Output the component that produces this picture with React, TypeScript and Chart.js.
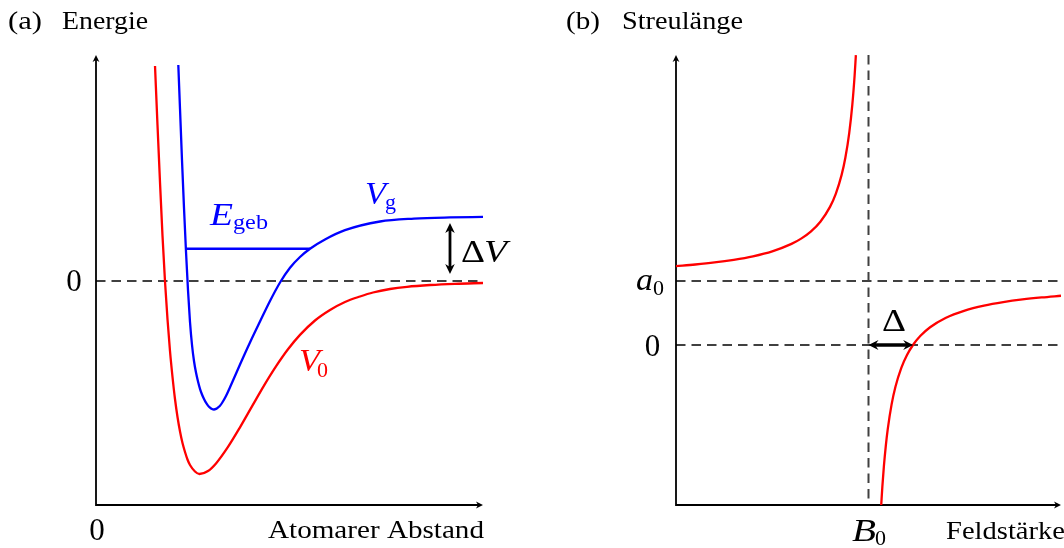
import React, { useEffect, useRef } from "react";
import { Chart, registerables } from "chart.js";

Chart.register(...registerables);

// ---------- (a) Energie über atomarem Abstand ----------
const distanceRange = [0, 10];
const energyRange = [-4.48, 4.52];

// V0: offener Kanal
const v0Distance = [
  1.525, 1.589, 1.654, 1.718, 1.783, 1.848, 1.912, 1.977, 2.041, 2.106, 2.171, 2.235, 2.3, 2.364, 2.429,
  2.558, 2.674, 2.894, 3.101, 3.411, 3.721, 4.031, 4.341, 4.651, 4.961, 5.271, 5.659, 6.047, 6.434, 6.822,
  7.158, 7.597, 8.036, 8.631, 9.277, 10.0,
];
const v0Energy = [
  4.3, 3.12, 1.97, 0.91, -0.01, -0.77, -1.4, -1.92, -2.36, -2.72, -3.01, -3.24, -3.42, -3.57, -3.68,
  -3.81, -3.86, -3.8, -3.648, -3.318, -2.926, -2.508, -2.092, -1.708, -1.366, -1.078, -0.79, -0.58, -0.42, -0.31,
  -0.23, -0.16, -0.116, -0.08, -0.056, -0.04,
];

// Vg: geschlossener Kanal
const vgDistance = [
  2.127, 2.171, 2.222, 2.274, 2.326, 2.377, 2.429, 2.481, 2.532, 2.584, 2.636, 2.687, 2.739, 2.791, 2.842,
  2.894, 2.946, 2.997, 3.049, 3.101, 3.152, 3.204, 3.256, 3.359, 3.463, 3.721, 3.979, 4.238, 4.496, 4.755,
  5.013, 5.271, 5.53, 5.917, 6.434, 7.339, 8.217, 9.147, 10.0,
];
const vgEnergy = [
  4.32, 3.44, 2.42, 1.46, 0.58, -0.18, -0.82, -1.28, -1.6, -1.83, -2.01, -2.156, -2.27, -2.36, -2.434,
  -2.492, -2.534, -2.561, -2.57, -2.558, -2.53, -2.494, -2.44, -2.3, -2.124, -1.67, -1.23, -0.81, -0.4, -0.03,
  0.265, 0.48, 0.645, 0.83, 1.016, 1.19, 1.248, 1.272, 1.282,
];

// gebundener Zustand im geschlossenen Kanal
const boundDistance = [2.32, 5.53];
const boundEnergy = [0.645, 0.645];

const thresholdEnergy = 0;
const closedChannelLimit = 1.282;
const gapDistance = 9.147;

// ---------- (b) Streulänge über Feldstärke ----------
const fieldRange = [0, 10];
const lengthRange = [-2.5, 4.53];

const fieldBelow = [0, 0.5, 1, 1.5, 2, 2.5, 3, 3.25, 3.5, 3.75, 4, 4.15, 4.3, 4.4, 4.5, 4.58, 4.64, 4.672];
const lengthBelow = [1.231, 1.257, 1.289, 1.331, 1.386, 1.463, 1.579, 1.661, 1.771, 1.926, 2.157, 2.361, 2.653, 2.928, 3.314, 3.755, 4.214, 4.527];

const fieldAbove = [5.33, 5.36, 5.4, 5.45, 5.5, 5.6, 5.7, 5.85, 6, 6.16, 6.35, 6.6, 7, 7.5, 8, 8.5, 9, 9.5, 10];
const lengthAbove = [-2.506, -2.214, -1.893, -1.571, -1.314, -0.928, -0.653, -0.361, -0.157, 0.003, 0.143, 0.277, 0.422, 0.537, 0.614, 0.669, 0.711, 0.743, 0.769];

const backgroundLength = 1; // a0
const zeroLength = 0;
const resonanceField = 5; // B0
const zeroCrossingField = 6.16;

const RED = "#ff0000";
const BLUE = "#0000ff";
const DASH = "#404040";
const FONT = '"Liberation Serif", "DejaVu Serif", serif';

const toPoints = (xs: number[], ys: number[]) => xs.map((x, i) => ({ x, y: ys[i] }));

type LabelOpts = {
  size: number;
  italic?: boolean;
  color?: string;
  align?: "left" | "center" | "right";
  width?: number;
};

function label(ctx: CanvasRenderingContext2D, text: string, x: number, y: number, o: LabelOpts) {
  ctx.save();
  ctx.font = `${o.italic ? "italic " : ""}${o.size}px ${FONT}`;
  ctx.fillStyle = o.color ?? "#000";
  ctx.textBaseline = "alphabetic";
  ctx.textAlign = "left";
  const w = ctx.measureText(text).width;
  const sx = o.width ? o.width / w : 1;
  const dw = w * sx;
  let left = x;
  if (o.align === "center") left = x - dw / 2;
  else if (o.align === "right") left = x - dw;
  ctx.translate(left, y);
  ctx.scale(sx, 1);
  ctx.fillText(text, 0, 0);
  ctx.restore();
}

function segment(ctx: CanvasRenderingContext2D, x1: number, y1: number, x2: number, y2: number) {
  ctx.beginPath();
  ctx.moveTo(x1, y1);
  ctx.lineTo(x2, y2);
  ctx.stroke();
}

// filled arrow tip pointing along `angle`, tip at (x, y)
function tip(ctx: CanvasRenderingContext2D, x: number, y: number, angle: number, len: number, half: number, notch: number) {
  ctx.save();
  ctx.translate(x, y);
  ctx.rotate(angle);
  ctx.beginPath();
  ctx.moveTo(0, 0);
  ctx.lineTo(-len, -half);
  ctx.lineTo(-len + notch, 0);
  ctx.lineTo(-len, half);
  ctx.closePath();
  ctx.fill();
  ctx.restore();
}

function drawAxes(chart: Chart) {
  const { ctx, chartArea: a } = chart;
  ctx.save();
  ctx.strokeStyle = "#000";
  ctx.fillStyle = "#000";
  ctx.lineWidth = 1.8;
  ctx.setLineDash([]);
  ctx.beginPath();
  ctx.moveTo(a.left, a.top + 4);
  ctx.lineTo(a.left, a.bottom);
  ctx.lineTo(a.right - 4, a.bottom);
  ctx.stroke();
  tip(ctx, a.left, a.top, -Math.PI / 2, 7, 3.4, 2);
  tip(ctx, a.right, a.bottom, 0, 7, 3.4, 2);
  ctx.restore();
}

function dashed(ctx: CanvasRenderingContext2D, x1: number, y1: number, x2: number, y2: number) {
  ctx.save();
  ctx.strokeStyle = DASH;
  ctx.lineWidth = 2;
  ctx.setLineDash([9.5, 6]);
  segment(ctx, x1, y1, x2, y2);
  ctx.restore();
}

const potentialDecor = {
  id: "potentialDecor",
  beforeDatasetsDraw(chart: Chart) {
    const { ctx, chartArea: a, scales } = chart;
    const y0 = scales.y.getPixelForValue(thresholdEnergy);
    dashed(ctx, a.left, y0, a.right, y0);
    drawAxes(chart);
  },
  afterDatasetsDraw(chart: Chart) {
    const { ctx, scales } = chart;
    const x = scales.x;
    const y = scales.y;

    // ΔV arrow between threshold and closed-channel limit
    const gx = x.getPixelForValue(gapDistance);
    const yTop = y.getPixelForValue(closedChannelLimit) + 6;
    const yBot = y.getPixelForValue(thresholdEnergy) - 7;
    ctx.save();
    ctx.strokeStyle = "#000";
    ctx.fillStyle = "#000";
    ctx.lineWidth = 2.8;
    segment(ctx, gx, yTop + 6, gx, yBot - 6);
    tip(ctx, gx, yTop, -Math.PI / 2, 10, 4.8, 3);
    tip(ctx, gx, yBot, Math.PI / 2, 10, 4.8, 3);
    ctx.restore();

    // titles and axis labels
    label(ctx, "(a)", 8, 29, { size: 26, width: 34 });
    label(ctx, "Energie", 62, 29, { size: 26, width: 86 });
    label(ctx, "0", 74, 291, { size: 31, align: "center" });
    label(ctx, "0", 97, 540, { size: 31, align: "center" });
    label(ctx, "Atomarer Abstand", 484, 538, { size: 26, align: "right", width: 216 });

    // curve annotations
    label(ctx, "E", 210, 225, { size: 31, italic: true, color: BLUE, width: 23 });
    label(ctx, "geb", 233, 229, { size: 22, color: BLUE, width: 35 });
    label(ctx, "V", 365, 204, { size: 31, italic: true, color: BLUE, width: 21 });
    label(ctx, "g", 385, 208.5, { size: 22, color: BLUE });
    label(ctx, "V", 299, 371, { size: 31, italic: true, color: RED, width: 21 });
    label(ctx, "0", 317, 377, { size: 22, color: RED });
    label(ctx, "\u0394", 461, 262, { size: 32, width: 24 });
    label(ctx, "V", 484, 262, { size: 32, italic: true, width: 23 });
  },
};

const scatteringDecor = {
  id: "scatteringDecor",
  beforeDatasetsDraw(chart: Chart) {
    const { ctx, chartArea: a, scales } = chart;
    const ya = scales.y.getPixelForValue(backgroundLength);
    const y0 = scales.y.getPixelForValue(zeroLength);
    const xb = scales.x.getPixelForValue(resonanceField);
    dashed(ctx, a.left, ya, a.right, ya);
    dashed(ctx, a.left, y0, a.right, y0);
    dashed(ctx, xb, a.top, xb, a.bottom);
    drawAxes(chart);
  },
  afterDatasetsDraw(chart: Chart) {
    const { ctx, scales } = chart;
    const x = scales.x;
    const y = scales.y;
    const off = 540;

    // Δ: distance between resonance position and zero crossing
    const x1 = x.getPixelForValue(resonanceField);
    const x2 = x.getPixelForValue(zeroCrossingField);
    const yz = y.getPixelForValue(zeroLength);
    ctx.save();
    ctx.strokeStyle = "#000";
    ctx.fillStyle = "#000";
    ctx.lineWidth = 3.4;
    segment(ctx, x1 + 5, yz, x2 - 5, yz);
    tip(ctx, x1, yz, Math.PI, 10, 5, 3.5);
    tip(ctx, x2, yz, 0, 10, 5, 3.5);
    ctx.restore();

    label(ctx, "(b)", 566 - off, 29, { size: 26, width: 34 });
    label(ctx, "Streul\u00e4nge", 622 - off, 29, { size: 26, width: 121 });
    label(ctx, "a", 636 - off, 290, { size: 31, italic: true, width: 17 });
    label(ctx, "0", 653 - off, 295, { size: 22 });
    label(ctx, "0", 652.5 - off, 356, { size: 31, align: "center" });
    label(ctx, "\u0394", 894 - off, 331, { size: 32, align: "center", width: 24 });
    label(ctx, "B", 852 - off, 541, { size: 31, italic: true, width: 24 });
    label(ctx, "0", 875 - off, 545, { size: 22 });
    label(ctx, "Feldst\u00e4rke", 946 - off, 539, { size: 26, width: 119 });
  },
};

function baseOptions(pad: { left: number; right: number; top: number; bottom: number }, xr: number[], yr: number[]) {
  return {
    responsive: false,
    maintainAspectRatio: false,
    animation: false as const,
    devicePixelRatio: 1,
    events: [] as any[],
    layout: { padding: pad },
    plugins: { legend: { display: false }, tooltip: { enabled: false }, title: { display: false } },
    elements: { point: { radius: 0 }, line: { borderWidth: 2.3, cubicInterpolationMode: "monotone" as const } },
    scales: {
      x: { type: "linear" as const, display: false, min: xr[0], max: xr[1] },
      y: { type: "linear" as const, display: false, min: yr[0], max: yr[1] },
    },
  };
}

export default function App() {
  const leftRef = useRef<HTMLCanvasElement>(null);
  const rightRef = useRef<HTMLCanvasElement>(null);

  useEffect(() => {
    const potential = new Chart(leftRef.current!, {
      type: "line",
      data: {
        datasets: [
          { label: "V0", data: toPoints(v0Distance, v0Energy), borderColor: RED, fill: false },
          { label: "Vg", data: toPoints(vgDistance, vgEnergy), borderColor: BLUE, fill: false },
          { label: "Egeb", data: toPoints(boundDistance, boundEnergy), borderColor: BLUE, fill: false, tension: 0 },
        ],
      },
      options: baseOptions({ left: 96, right: 57, top: 55, bottom: 43 }, distanceRange, energyRange) as any,
      plugins: [potentialDecor as any],
    });

    const scattering = new Chart(rightRef.current!, {
      type: "line",
      data: {
        datasets: [
          { label: "a (B < B0)", data: toPoints(fieldBelow, lengthBelow), borderColor: RED, fill: false },
          { label: "a (B > B0)", data: toPoints(fieldAbove, lengthAbove), borderColor: RED, fill: false },
        ],
      },
      options: baseOptions({ left: 136, right: 3, top: 55, bottom: 43 }, fieldRange, lengthRange) as any,
      plugins: [scatteringDecor as any],
    });

    return () => {
      potential.destroy();
      scattering.destroy();
    };
  }, []);

  return (
    <div style={{ position: "fixed", left: 0, top: 0, width: 1064, height: 548, background: "#fff" }}>
      <canvas ref={leftRef} width={540} height={548} style={{ position: "absolute", left: 0, top: 0, width: 540, height: 548 }} />
      <canvas ref={rightRef} width={524} height={548} style={{ position: "absolute", left: 540, top: 0, width: 524, height: 548 }} />
    </div>
  );
}
